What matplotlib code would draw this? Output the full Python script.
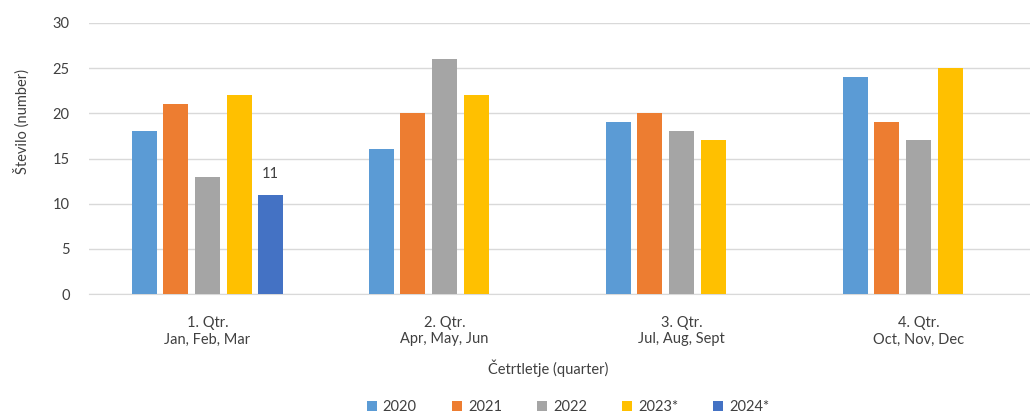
import numpy as np
import matplotlib.pyplot as plt

# data
quarters = ["1. Qtr.\nJan, Feb, Mar", "2. Qtr.\nApr, May, Jun",
            "3. Qtr.\nJul, Aug, Sept", "4. Qtr.\nOct, Nov, Dec"]
years = ["2020", "2021", "2022", "2023*", "2024*"]
v2020 = [18, 16, 19, 24]
v2021 = [21, 20, 20, 19]
v2022 = [13, 26, 18, 17]
v2023 = [22, 22, 17, 25]
v2024 = [11, np.nan, np.nan, np.nan]
colors = ["#5B9BD5", "#ED7D31", "#A5A5A5", "#FFC000", "#4472C4"]

plt.rcParams['font.family'] = ['Lato', 'DejaVu Sans']
txt = "#404040"

fig = plt.figure(figsize=(10.3, 4.16), dpi=100)
# plot area runs a bit past the right edge, as in the original
ax = fig.add_axes([89/1030, 1-294/416, 948/1030, 271/416])

x = np.arange(len(quarters))
step = 0.133
width = 0.1055
series = [v2020, v2021, v2022, v2023, v2024]
for i, (vals, c, lab) in enumerate(zip(series, colors, years)):
    bars = ax.bar(x + (i - 2) * step, vals, width, color=c, label=lab, zorder=3)
    if lab == "2024*":
        ax.bar_label(bars, labels=["11", "", "", ""], padding=10, fontsize=10.5, color=txt)

ax.set_xlim(-0.5, 3.5)
ax.set_ylim(0, 30)
ax.set_yticks(range(0, 31, 5))
ax.set_xticks(x)
ax.set_xticklabels(quarters, fontsize=10.5, color=txt, linespacing=1.2)
ax.tick_params(axis='y', labelsize=10.5, labelcolor=txt, length=0, pad=14)
ax.tick_params(axis='x', length=0, pad=16)
ax.grid(axis='y', color="#D9D9D9", linewidth=1, zorder=0)
for s in ["top", "right", "left"]:
    ax.spines[s].set_visible(False)
ax.spines["bottom"].set_color("#D9D9D9")

fig.text(22/1030, 1-122/416, "Število (number)", rotation=90, ha="center", va="center",
         fontsize=10.5, color=txt)
fig.text(548/1030, 1-368/416, "Četrtletje (quarter)", ha="center", va="center",
         fontsize=10.5, color=txt)

fig.legend(loc="center", bbox_to_anchor=(568/1030, 1-407/416), ncol=5, frameon=False,
           fontsize=10.5, handlelength=0.7, handleheight=0.7, columnspacing=2.4,
           handletextpad=0.4, labelcolor=txt)

fig.savefig("out.png", dpi=100)
